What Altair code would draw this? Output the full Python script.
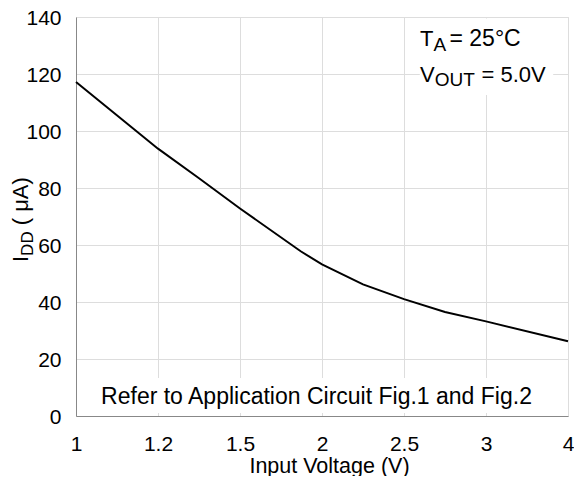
import altair as alt
import pandas as pd

# ---- data ----
vin = [1, 1.2, 1.35, 1.5, 1.87, 2, 2.25, 2.5, 2.75, 3, 4]
idd = [117.2, 93.8, 83.4, 72.8, 57.8, 53.2, 46.2, 41.0, 36.5, 33.2, 26.2]
x_ticks = [1, 1.2, 1.5, 2, 2.5, 3, 4]
y_ticks = [0, 20, 40, 60, 80, 100, 120, 140]

W, H = 492, 399
FONT = "Liberation Sans"
x_range = [W * i / (len(x_ticks) - 1) for i in range(len(x_ticks))]

df = pd.DataFrame({"vin": vin, "idd": idd})
one = pd.DataFrame({"k": [0]})

line = alt.Chart(df).mark_line(color="black", strokeWidth=2).encode(
    x=alt.X(
        "vin:Q",
        scale=alt.Scale(domain=x_ticks, range=x_range, nice=False),
        axis=alt.Axis(
            values=x_ticks, format="~g", title="Input Voltage (V)",
            ticks=False, tickSize=0, labelPadding=17, labelFontSize=21,
            titleFontSize=21.5, titleFontWeight="normal", titleBaseline="alphabetic",
            titleY=56, titleX=253, labelFlush=False,
        ),
    ),
    y=alt.Y(
        "idd:Q",
        scale=alt.Scale(domain=[0, 140], nice=False),
        axis=alt.Axis(
            values=y_ticks, title=None, ticks=False, tickSize=0,
            labelPadding=15, labelFontSize=21, labelFlush=False, labelOffset=1.5,
        ),
    ),
)


def box(x1, x2, y1, y2):
    return alt.Chart(one).mark_rect(fill="white", stroke=None).encode(
        x=alt.value(x1), x2=alt.value(x2), y=alt.value(y1), y2=alt.value(y2)
    )


def txt(s, x, y, size, angle=0, align="left"):
    return alt.Chart(one).mark_text(
        text=s, font=FONT, fontSize=size, color="black", align=align,
        baseline="alphabetic", angle=angle,
    ).encode(x=alt.value(x), y=alt.value(y))


layers = [
    box(343.8, 477.2, 1.5, 78),
    box(18.8, 463.4, 361, 396),
    line,
    txt("T", 344.1, 29, 22),
    txt("A", 357.4, 34, 19),
    txt("= 25°C", 373.5, 29, 23),
    txt("V", 344.1, 64.7, 22),
    txt("OUT", 358.8, 69, 19),
    txt("= 5.0V", 405.5, 64.7, 22),
    txt("Refer to Application Circuit Fig.1 and Fig.2", 240.5, 387, 23, align="center"),
    txt("I", -48, 245, 22, angle=270),
    txt("DD", -43.5, 238.9, 17, angle=270),
    txt("(\u00a0μA)", -48, 208.3, 22, angle=270),
]

chart = alt.layer(*layers).properties(
    width=W, height=H,
    autosize=alt.AutoSizeParams(type="none"),
    padding={"left": 68, "top": 9, "right": 6, "bottom": 60},
).configure_view(
    stroke="black", strokeWidth=1.5
).configure_axis(
    grid=True, gridColor="#a0a0a0", gridWidth=1,
    domainColor="black", domainWidth=2.5,
    labelFont=FONT, labelColor="black", titleFont=FONT, titleColor="black",
    titleFontWeight="normal",
).configure(background="white")

chart.save("out.html", embed_options={"renderer": "svg", "actions": False})
